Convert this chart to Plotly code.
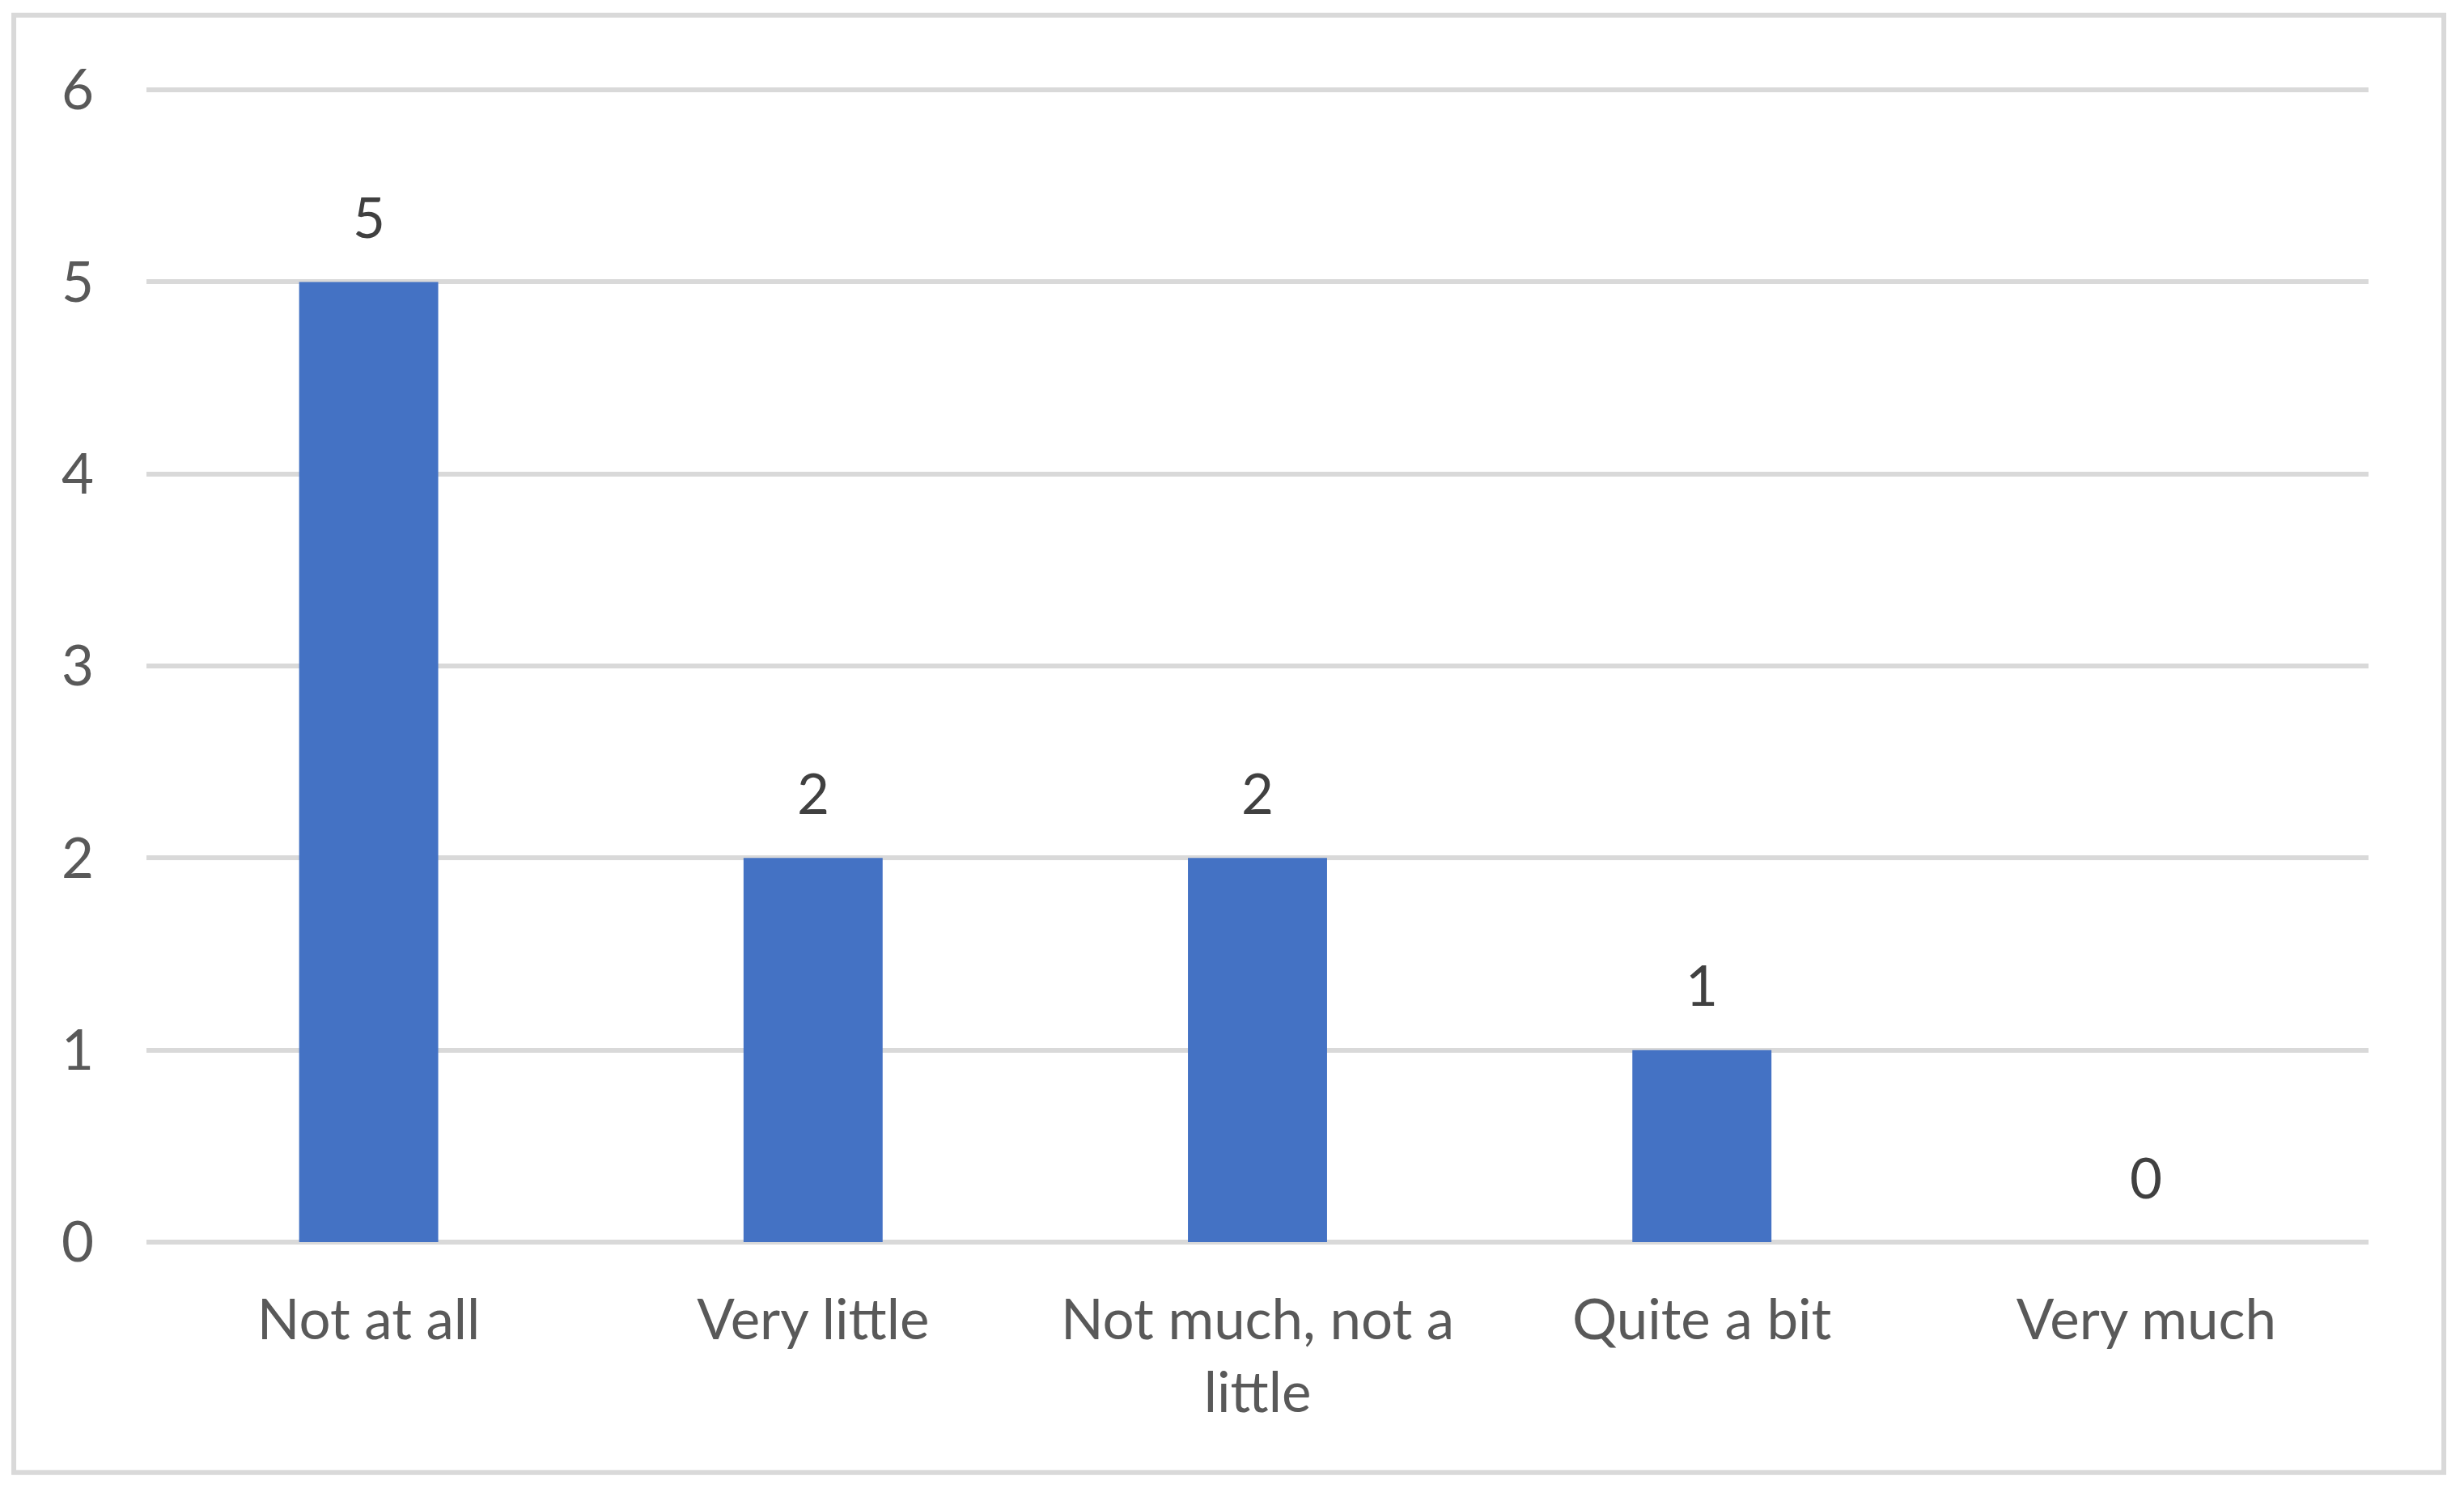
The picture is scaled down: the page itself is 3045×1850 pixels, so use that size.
import plotly.graph_objects as go

# survey answers and how many picked each one
categories = ["Not at all", "Very little", "Not much, not a<br>little", "Quite a bit", "Very much"]
counts = [5, 2, 2, 1, 0]
y_ticks = [0, 1, 2, 3, 4, 5, 6]

bar_color = "#4472C4"
grid_color = "#D9D9D9"
font_name = "Lato"
fsize = 69

fig = go.Figure()
fig.add_trace(go.Bar(x=categories, y=counts, marker=dict(color=bar_color, line=dict(width=0)),
                     hoverinfo="x+y"))

# data labels above the bars
for cat, val in zip(categories, counts):
    fig.add_annotation(x=cat, y=val, text=str(val), showarrow=False,
                       yanchor="middle", yshift=81,
                       font=dict(family=font_name, size=fsize, color="#404040"))

# light frame round the whole chart
fig.add_shape(type="rect", xref="paper", yref="paper",
              x0=-0.0597, x1=1.0339, y0=-0.199, y1=1.0595,
              line=dict(color=grid_color, width=6), fillcolor="rgba(0,0,0,0)", layer="below")

fig.update_layout(
    width=3045, height=1850,
    margin=dict(l=181, r=118, t=104, b=315),
    paper_bgcolor="white", plot_bgcolor="white",
    bargap=0.687,
    showlegend=False,
    font=dict(family=font_name, size=fsize, color="#595959"),
)
fig.update_xaxes(showgrid=False, showline=False, ticks="", ticklabelstandoff=50,
                 tickfont=dict(family=font_name, size=fsize, color="#595959"))
# top of range a hair above 6 so the top gridline is drawn
fig.update_yaxes(range=[0, 6.03], tickvals=y_ticks, showgrid=True, gridcolor=grid_color, gridwidth=6,
                 zeroline=True, zerolinecolor=grid_color, zerolinewidth=6, showline=False,
                 ticks="", ticklabelstandoff=64,
                 tickfont=dict(family=font_name, size=fsize, color="#595959"))

fig.write_html("out.html", config={"displayModeBar": False},
               post_script="document.body.style.margin='0';")
